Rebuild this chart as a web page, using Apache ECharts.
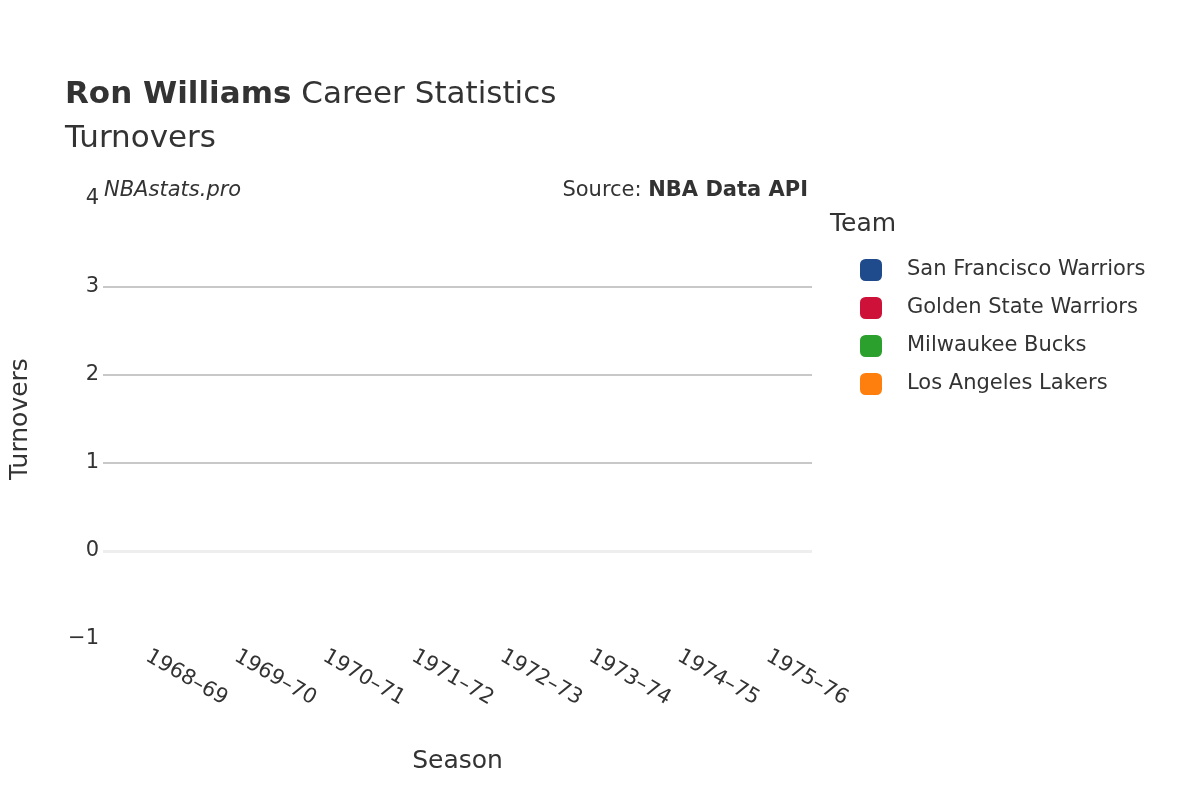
<!DOCTYPE html>
<html><head><meta charset="utf-8">
<script src="https://cdn.jsdelivr.net/npm/echarts@6/dist/echarts.min.js"></script>
<style>html,body{margin:0;padding:0;background:#fff}#c{width:1200px;height:800px}</style>
</head><body><div id="c"></div>
<script>
const seasons = ['1968–69','1969–70','1970–71','1971–72','1972–73','1973–74','1974–75','1975–76'];
const teams = ['San Francisco Warriors','Golden State Warriors','Milwaukee Bucks','Los Angeles Lakers'];
const colors = ['#1f4a8c','#ce1138','#2ca02c','#ff7f0e'];
const sfw = [null,null,null,null,null,null,null,null];
const gsw = [null,null,null,null,null,null,null,null];
const mil = [null,null,null,null,null,null,null,null];
const lal = [null,null,null,null,null,null,null,null];
const values = [sfw,gsw,mil,lal];
const font = 'DejaVu Sans, sans-serif';
const chart = echarts.init(document.getElementById('c'));
const series = teams.map((t,i)=>({name:t,type:'line',data:values[i],itemStyle:{color:colors[i]},lineStyle:{color:colors[i]}}));
series[0].markLine = {silent:true,symbol:'none',label:{show:false},lineStyle:{color:'#eeeeee',width:3,type:'solid'},data:[{yAxis:0}]};
chart.setOption({
  animation:false,
  color:colors,
  title:{text:'{b|Ron Williams} Career Statistics\nTurnovers',left:60,top:68,
    textStyle:{fontFamily:font,fontSize:31,color:'#333',fontWeight:'normal',lineHeight:44,
      rich:{b:{fontFamily:font,fontSize:31,fontWeight:'bold',color:'#333'}}}},
  grid:{left:98,right:388,top:199,bottom:161,containLabel:false},
  xAxis:{type:'category',data:seasons,boundaryGap:true,
    name:'Season',nameLocation:'middle',nameGap:110,nameTextStyle:{fontFamily:font,fontSize:25,color:'#333'},
    axisLine:{show:false},axisTick:{show:false},
    axisLabel:{rotate:-30,fontFamily:font,fontSize:21,color:'#333',margin:16}},
  yAxis:{type:'value',min:-1,max:4,interval:1,
    name:'Turnovers',nameLocation:'middle',nameGap:70,nameTextStyle:{fontFamily:font,fontSize:25,color:'#333'},
    axisLine:{show:false},axisTick:{show:false},
    axisLabel:{fontFamily:font,fontSize:21,color:'#333',margin:4,formatter:v=>v<0?'−'+Math.abs(v):String(v)},
    splitLine:{lineStyle:{color:['rgba(0,0,0,0)','rgba(0,0,0,0)','#c8c8c8','#c8c8c8','#c8c8c8','rgba(0,0,0,0)'],width:2}}},
  legend:{orient:'vertical',left:855,top:254,itemWidth:22,itemHeight:22,itemGap:16,icon:'roundRect',
    textStyle:{fontFamily:font,fontSize:21,color:'#333',padding:[0,0,0,20]},data:teams},
  graphic:[
    {type:'text',left:830,top:212,style:{text:'Team',font:'25px '+font,fill:'#333'}},
    {type:'text',left:104,top:180,style:{text:'NBAstats.pro',font:'italic 21px '+font,fill:'#333'}},
    {type:'text',right:392,top:180,style:{text:'{a|Source: }{b|NBA Data API}',font:'21px '+font,
      rich:{a:{font:'21px '+font,fill:'#333'},b:{font:'bold 21px '+font,fill:'#333'}}}}
  ],
  series:series
});
</script></body></html>
